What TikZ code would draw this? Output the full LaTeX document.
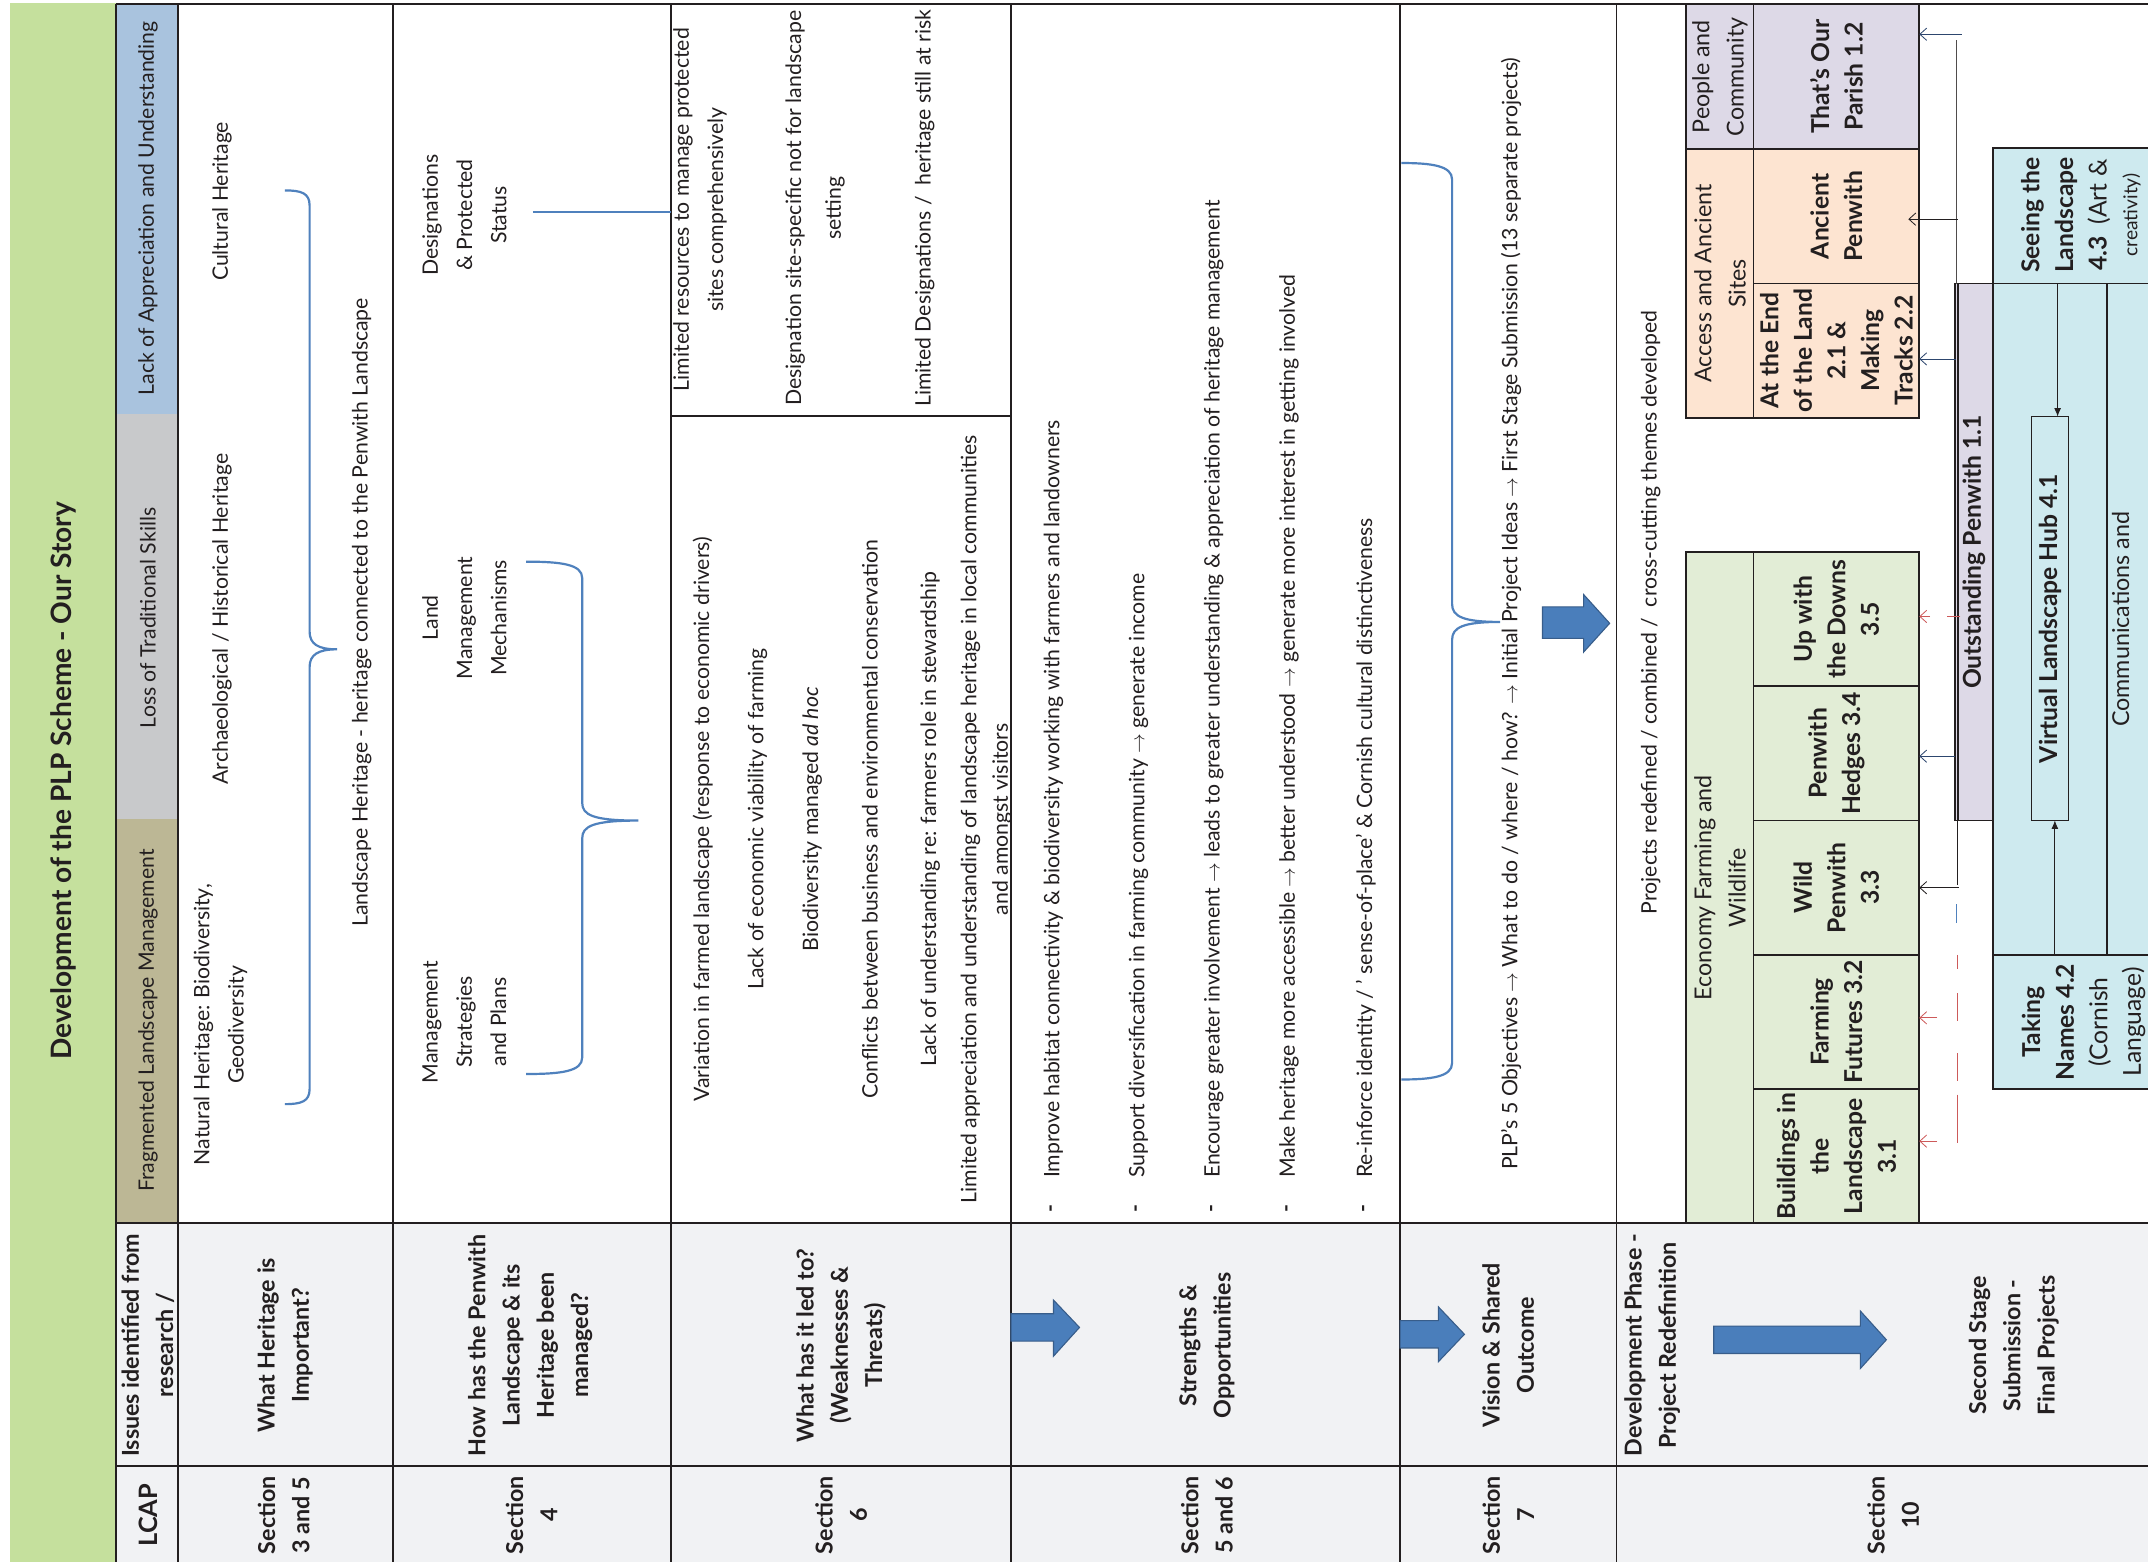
\documentclass[tikz,border=0pt]{standalone}
\usepackage{fontspec}
\setmainfont{Lato}
\usetikzlibrary{arrows.meta}
\definecolor{gband}{RGB}{197,224,157}
\definecolor{hblue}{RGB}{169,195,222}
\definecolor{hgrey}{RGB}{200,201,203}
\definecolor{htan}{RGB}{188,183,149}
\definecolor{qgrey}{RGB}{241,242,244}
\definecolor{pgreen}{RGB}{226,237,214}
\definecolor{ppeach}{RGB}{253,228,209}
\definecolor{plav}{RGB}{221,217,231}
\definecolor{pcyan}{RGB}{206,234,239}
\definecolor{ablue}{RGB}{74,126,187}
\definecolor{aedge}{RGB}{56,93,138}
\definecolor{bblue}{RGB}{79,129,189}
\definecolor{lred}{RGB}{205,90,90}
\definecolor{ink}{RGB}{35,31,32}
\definecolor{slate}{RGB}{45,70,110}
\begin{document}
\begin{tikzpicture}[x=1pt,y=-1pt,
  txt/.style={rotate=90, inner sep=0pt, align=center, text=ink, font=\fontsize{15.5}{25}\selectfont},
  htxt/.style={txt, font=\fontsize{17}{25}\selectfont},
  btxt/.style={rotate=90, inner sep=0pt, align=center, text=ink, font=\bfseries\fontsize{17}{25}\selectfont},
  ptxt/.style={rotate=90, inner sep=0pt, align=center, text=ink, font=\bfseries\fontsize{18}{24.5}\selectfont},
  ltxt/.style={txt, anchor=west},
  cellline/.style={draw=ink, line width=1.4pt},
  pbox/.style={draw=ink, line width=1.3pt, inner sep=0pt, outer sep=0pt, anchor=north west},
  brace/.style={draw=bblue, line width=1.6pt},
  conn/.style={draw=ink, line width=0.6pt, -{Straight Barb[length=5pt,width=9pt]}},
  bconn/.style={draw=slate, line width=0.6pt, -{Straight Barb[length=5pt,width=9pt]}},
  rconn/.style={draw=lred, line width=0.6pt, -{Straight Barb[length=5pt,width=9pt]}},
  hubarrow/.style={draw=ink, line width=0.6pt, -{Latex[length=6pt,width=5pt]}},
  bigarrow/.style={fill=ablue, draw=aedge, line width=0.8pt, line join=miter}]
\useasboundingbox (0,0) rectangle (1568,1140);
\clip (0,0) rectangle (1568,1140);
\fill[white] (0,0) rectangle (1568,1140);

% green title band
\fill[gband] (7,2) rectangle (85,1140);
\node[btxt, font=\bfseries\fontsize{20.5}{24}\selectfont] (title) at (46,570) {Development of the PLP Scheme - Our Story};

% header column fills
\fill[hblue] (85,3) rectangle (130,302);
\fill[hgrey] (85,302) rectangle (130,598);
\fill[htan] (85,598) rectangle (130,893);
\fill[qgrey] (85,893) rectangle (1568,1140);

% table lines
\draw[cellline] (85,3) -- (1568,3);
\foreach \xx in {85,130,287,490,738,1022,1180} \draw[cellline] (\xx,3) -- (\xx,1140);
\draw[cellline] (85,893) -- (1568,893);
\draw[cellline] (85,1070) -- (1568,1070);
\draw[cellline] (490,304) -- (738,304);

% header column texts
\node[txt] (h1) at (108,152) {Lack of Appreciation and Understanding};
\node[txt] (h2) at (108,451) {Loss of Traditional Skills};
\node[txt] (h3) at (108,745) {Fragmented Landscape Management};
\node[btxt] (h4) at (108,982) {Issues identified from\\research /};
\node[btxt, font=\bfseries\fontsize{18.5}{25}\selectfont] (lcap) at (108,1106) {LCAP};

% question & section cells
\node[btxt] (q1) at (208,982) {What Heritage is\\Important?};
\node[btxt] (s1) at (207,1106) {Section\\3 and 5};
\node[btxt] (q2) at (387,982) {How has the Penwith\\Landscape \& its\\Heritage been\\managed?};
\node[btxt] (s2) at (388,1106) {Section\\4};
\node[btxt] (q3) at (614,982) {What has it led to?\\(Weaknesses \&\\Threats)};
\node[btxt] (s3) at (614,1106) {Section\\6};
\node[btxt] (q4) at (881,982) {Strengths \&\\Opportunities};
\node[btxt] (s4) at (881,1106) {Section\\5 and 6};
\node[btxt] (q5) at (1101,982) {Vision \& Shared\\Outcome};
\node[btxt] (s5) at (1101,1106) {Section\\7};
\node[btxt] (q6a) at (1206,982) {Development Phase -\\Project Redefinition};
\node[btxt] (q6b) at (1470,982) {Second Stage\\Submission -\\Final Projects};
\node[btxt] (s6) at (1382,1106) {Section\\10};

% big arrows in question cells
\draw[bigarrow] (738,959) -- (769,959) -- (769,949) -- (788,969) -- (769,990) -- (769,979) -- (738,979) -- cycle;
\draw[bigarrow] (1022,964) -- (1050,964) -- (1050,954) -- (1069,974) -- (1050,994) -- (1050,984) -- (1022,984) -- cycle;
\draw[bigarrow] (1251,968) -- (1358,968) -- (1358,957) -- (1377,978) -- (1358,999) -- (1358,988) -- (1251,988) -- cycle;

% row 1
\node[txt] (r1a) at (161,748) {Natural Heritage: Biodiversity,\\Geodiversity};
\node[txt] (r1b) at (162,452) {Archaeological / Historical Heritage};
\node[txt] (r1c) at (162,147) {Cultural Heritage};
\node[txt] (r1d) at (264,447) {Landscape Heritage - heritage connected to the Penwith Landscape};
\draw[brace] (208,139) .. controls (220,139) and (226,141) .. (226,150) -- (226,461) .. controls (226,470) and (232,474) .. (246,474) .. controls (232,474) and (226,478) .. (226,487) -- (226,795) .. controls (226,804) and (220,806) .. (208,806);

% row 2
\node[txt] (r2a) at (339,746) {Management\\Strategies\\and Plans};
\node[txt] (r2b) at (339,451) {Land\\Management\\Mechanisms};
\node[txt] (r2c) at (339,157) {Designations\\\& Protected\\Status};
\draw[brace] (384,410) .. controls (410,410) and (425,412) .. (425,422) -- (425,586) .. controls (425,595) and (433,599) .. (466,599) .. controls (433,599) and (425,603) .. (425,612) -- (425,772) .. controls (425,782) and (410,784) .. (384,784);
\coordinate (dl) at (389,155);
\coordinate (dr) at (490,155);
\draw[brace] (dl) -- (dr);

% row 3
\node[txt] (r3a) at (511,153) {Limited resources to manage protected\\sites comprehensively};
\node[txt, font=\fontsize{15.5}{29}\selectfont] (r3b) at (595,152) {Designation site-specific not for landscape\\setting};
\node[txt] (r3c) at (675,152) {Limited Designations /\ \ heritage still at risk};
\node[txt] (r3d) at (513,598) {Variation in farmed landscape (response to economic drivers)};
\node[txt] (r3e) at (553,598) {Lack of economic viability of farming};
\node[txt] (r3f) at (593,598) {Biodiversity managed \textit{ad hoc}};
\node[txt] (r3g) at (635,598) {Conflicts between business and environmental conservation};
\node[txt] (r3h) at (679,598) {Lack of understanding re: farmers role in stewardship};
\node[txt, font=\fontsize{15.5}{23}\selectfont] (r3i) at (720,598) {Limited appreciation and understanding of landscape heritage in local communities\\and amongst visitors};

% row 4 bullets
\foreach \xx/\nm/\tx in {769/b1/{Improve habitat connectivity \& biodiversity working with farmers and landowners},
  831/b2/{Support diversification in farming community $\rightarrow$ generate income},
  886/b3/{Encourage greater involvement $\rightarrow$ leads to greater understanding \& appreciation of heritage management},
  941/b4/{Make heritage more accessible $\rightarrow$ better understood $\rightarrow$ generate more interest in getting involved},
  997/b5/{Re-inforce identity / ’ sense-of-place’ \& Cornish cultural distinctiveness}} {
  \node[txt, font=\bfseries\fontsize{15.5}{25}\selectfont] (\nm d) at (\xx,882) {-};
  \node[ltxt] (\nm) at (\xx,860) {\tx};
}

% row 5
\node[txt] (r5) at (1103,448) {PLP’s 5 Objectives $\rightarrow$ What to do / where / how? $\rightarrow$ Initial Project Ideas $\rightarrow$ First Stage Submission (13 separate projects)};
\draw[brace] (1023,119) .. controls (1045,119) and (1060,121) .. (1060,131) -- (1060,441) .. controls (1060,450) and (1068,454) .. (1095,454) .. controls (1068,454) and (1060,458) .. (1060,467) -- (1060,776) .. controls (1060,786) and (1045,788) .. (1023,788);
\draw[bigarrow] (1126,443) -- (1156,443) -- (1156,434) -- (1175,455) -- (1156,476) -- (1156,466) -- (1126,466) -- cycle;

% row 6
\node[txt] (r6) at (1205,447) {Projects redefined / combined /\ \ cross-cutting themes developed};

% project boxes
\node[pbox, fill=plav, minimum width=49pt, minimum height=106pt] (peopleH) at (1231,3) {};
\node[pbox, fill=plav, minimum width=121pt, minimum height=106pt] (parish) at (1280,3) {};
\node[pbox, fill=ppeach, minimum width=49pt, minimum height=196pt] (accessH) at (1231,109) {};
\node[pbox, fill=ppeach, minimum width=121pt, minimum height=98pt] (ancient) at (1280,109) {};
\node[pbox, fill=ppeach, minimum width=121pt, minimum height=98pt] (endland) at (1280,207) {};
\node[pbox, fill=pgreen, minimum width=49pt, minimum height=490pt] (econH) at (1231,403) {};
\node[pbox, fill=pgreen, minimum width=121pt, minimum height=98pt] (downs) at (1280,403) {};
\node[pbox, fill=pgreen, minimum width=121pt, minimum height=98pt] (hedges) at (1280,501) {};
\node[pbox, fill=pgreen, minimum width=121pt, minimum height=98pt] (wild) at (1280,599) {};
\node[pbox, fill=pgreen, minimum width=121pt, minimum height=98pt] (futures) at (1280,697) {};
\node[pbox, fill=pgreen, minimum width=121pt, minimum height=98pt] (buildings) at (1280,795) {};
\node[pbox, fill=pcyan, minimum width=170pt, minimum height=99pt] (seeing) at (1455,108) {};
\node[pbox, fill=pcyan, minimum width=170pt, minimum height=490pt] (cyanmain) at (1455,207) {};
\node[pbox, fill=pcyan, minimum width=90pt, minimum height=490pt] (comms) at (1538,207) {};
\node[pbox, fill=pcyan, minimum width=170pt, minimum height=98pt] (taking) at (1455,697) {};
\node[pbox, fill=plav, minimum width=28pt, minimum height=392pt] (outst) at (1427,207) {};
\draw[ink, line width=1.3pt] (1429.5,207) -- (1429.5,599);
\node[pbox, fill=pcyan, minimum width=27pt, minimum height=295pt] (hub) at (1483,304) {};

% box texts
\node[htxt] at (peopleH.center) {People and\\Community};
\node[ptxt] at (parish.center) {That's Our\\Parish 1.2};
\node[htxt] at (accessH.center) {Access and Ancient\\Sites};
\node[ptxt] at (ancient.center) {Ancient\\Penwith};
\node[ptxt] at (endland.center) {At the End\\of the Land\\2.1 \&\\Making\\Tracks 2.2};
\node[htxt] at (econH.center) {Economy Farming and\\Wildlife};
\node[ptxt] at (downs.center) {Up with\\the Downs\\3.5};
\node[ptxt] at (hedges.center) {Penwith\\Hedges 3.4};
\node[ptxt] at (wild.center) {Wild\\Penwith\\3.3};
\node[ptxt] at (futures.center) {Farming\\Futures 3.2};
\node[ptxt] at (buildings.center) {Buildings in\\the\\Landscape\\3.1};
\node[ptxt] at (outst.center) {Outstanding Penwith 1.1};
\node[ptxt] at (hub.center) {Virtual Landscape Hub 4.1};
\node[ptxt] at (1519,157) {Seeing the\\Landscape\\4.3\ \ {\mdseries (Art \&}\\[-2pt]{\mdseries\fontsize{14}{16}\selectfont creativity)}};
\node[ptxt] at (1521,746) {Taking\\Names 4.2\\{\mdseries (Cornish}\\{\mdseries Language)}};
\node[htxt] (commsT) at (1548,452) {Communications and};

% hub arrows
\coordinate (hs) at (1502,207);
\draw[hubarrow] (hs) -- (hs |- hub.north);
\coordinate (ht) at (1500,697);
\draw[hubarrow] (ht) -- (ht |- hub.south);

% connectors from Outstanding Penwith
\coordinate (trTop) at (1428,29);
\coordinate (trBot) at (1428,207);
\draw[ink!80, line width=0.6pt] (trBot) -- (trTop);
\coordinate (a1) at (1432,25);
\draw[bconn] (a1) -- (a1 -| parish.east);
\coordinate (a2) at (1429,160);
\path (a2 -| ancient.east) ++(-8,0) coordinate (a2e);
\draw[conn] (a2) -- (a2e);
\coordinate (a3) at (1428,262);
\draw[bconn] (a3) -- (a3 -| endland.east);
\coordinate (a4) at (1427,552);
\draw[bconn] (a4) -- (a4 -| hedges.east);
\coordinate (a5) at (1431,450);
\draw[rconn, dash pattern=on 10pt off 12pt] (a5) -- (a5 -| downs.east);
\coordinate (lb1) at (1429,599);
\coordinate (lb2) at (1429,646);
\draw[ink, line width=0.6pt] (lb1) -- (lb2);
\coordinate (a6) at (1430,648);
\draw[conn] (a6) -- (a6 -| wild.east);
\draw[bblue, line width=0.8pt] (1428,660) -- (1428,674);
\coordinate (rd1) at (1429,697);
\coordinate (rd2) at (1429,835);
\draw[lred, line width=0.8pt, dash pattern=on 10pt off 18pt on 20pt off 24pt on 20pt off 10pt on 35pt] (rd1) -- (rd2);
\coordinate (a7) at (1414,743);
\draw[rconn] (a7) -- (a7 -| futures.east);
\coordinate (a8) at (1414,833);
\draw[rconn] (a8) -- (a8 -| buildings.east);
\end{tikzpicture}
\end{document}
